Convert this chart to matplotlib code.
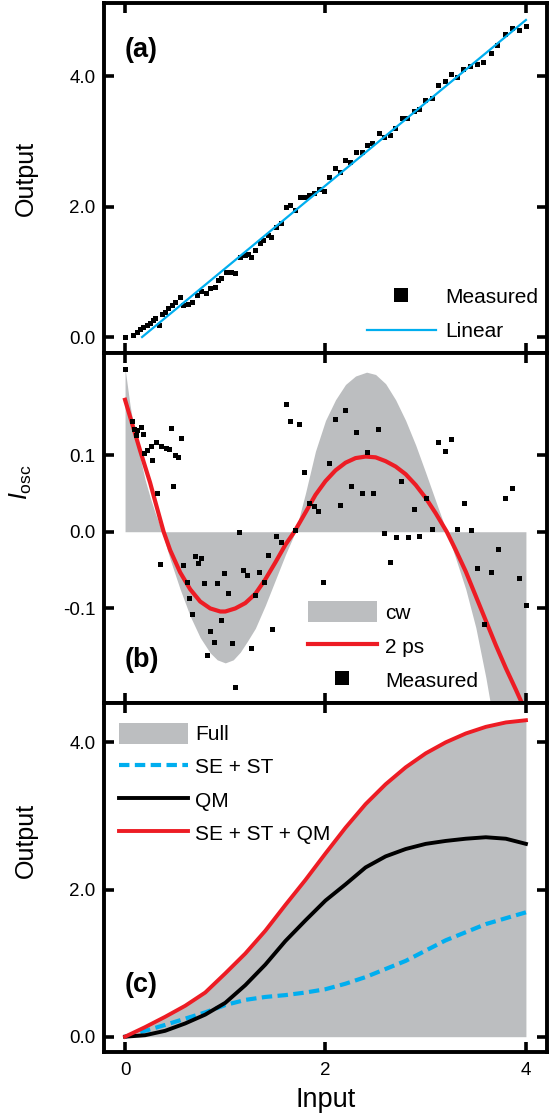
import matplotlib
matplotlib.use("Agg")
import matplotlib.pyplot as plt

plt.rcParams['font.family'] = ['Liberation Sans', 'DejaVu Sans']
plt.rcParams['mathtext.fontset'] = 'custom'
plt.rcParams['mathtext.rm'] = 'Liberation Sans'
plt.rcParams['mathtext.it'] = 'Liberation Sans:italic'

# ---- panel (a): measured output vs input, with a linear fit
a_in = [0.00, 0.08, 0.12, 0.15, 0.18, 0.22, 0.25, 0.28, 0.30, 0.34, 0.37, 0.40, 0.43,
        0.47, 0.50, 0.55, 0.58, 0.63, 0.67, 0.72, 0.76, 0.81, 0.85, 0.90, 0.93, 0.96,
        1.01, 1.06, 1.10, 1.15, 1.20, 1.23, 1.26, 1.30, 1.35, 1.38, 1.43, 1.46, 1.51,
        1.56, 1.61, 1.65, 1.70, 1.75, 1.78, 1.81, 1.84, 1.89, 1.94, 1.99, 2.04, 2.09,
        2.14, 2.19, 2.24, 2.30, 2.36, 2.41, 2.46, 2.53, 2.58, 2.64, 2.69, 2.76, 2.81,
        2.88, 2.93, 2.99, 3.06, 3.12, 3.19, 3.25, 3.31, 3.37, 3.44, 3.51, 3.57, 3.65,
        3.71, 3.79, 3.86, 3.93, 4.00]
a_out = [0.00, 0.03, 0.08, 0.13, 0.16, 0.18, 0.22, 0.26, 0.29, 0.18, 0.36, 0.39, 0.44,
         0.49, 0.53, 0.62, 0.49, 0.51, 0.53, 0.64, 0.70, 0.67, 0.75, 0.77, 0.88, 0.90,
         1.00, 0.99, 0.98, 1.23, 1.26, 1.28, 1.23, 1.34, 1.44, 1.48, 1.56, 1.53, 1.69,
         1.75, 1.99, 2.02, 1.95, 2.14, 2.14, 2.14, 2.18, 2.21, 2.27, 2.24, 2.46, 2.59,
         2.53, 2.72, 2.69, 2.83, 2.83, 2.94, 2.97, 3.12, 3.07, 3.10, 3.20, 3.35, 3.35,
         3.46, 3.49, 3.63, 3.67, 3.86, 3.93, 4.03, 3.99, 4.11, 4.15, 4.19, 4.21, 4.36,
         4.48, 4.64, 4.73, 4.71, 4.77]
lin_in = [0.17, 4.00]
lin_out = [0.00, 4.86]

# ---- panel (b): oscillating part
cw_x = [0.00, 0.05, 0.10, 0.15, 0.20, 0.25, 0.30, 0.37, 0.45, 0.55, 0.65, 0.75, 0.85,
        0.92, 1.00, 1.08, 1.15, 1.22, 1.30, 1.40, 1.50, 1.60, 1.70, 1.80, 1.90, 2.00,
        2.10, 2.20, 2.30, 2.41, 2.50, 2.60, 2.70, 2.80, 2.90, 3.00, 3.10, 3.21, 3.30,
        3.40, 3.50, 3.60, 3.70, 3.80, 4.00]
cw_y = [0.213, 0.165, 0.127, 0.097, 0.068, 0.045, 0.025, 0.000, -0.036, -0.075, -0.110,
        -0.138, -0.158, -0.167, -0.171, -0.167, -0.157, -0.143, -0.126, -0.096, -0.063,
        -0.030, 0.000, 0.050, 0.105, 0.145, 0.172, 0.192, 0.203, 0.208, 0.205, 0.193,
        0.172, 0.145, 0.113, 0.077, 0.040, 0.000, -0.035, -0.075, -0.125, -0.190,
        -0.265, -0.340, -0.500]
ps2_x = [0.00, 0.05, 0.10, 0.15, 0.20, 0.25, 0.30, 0.385, 0.45, 0.55, 0.65, 0.75, 0.85,
         0.95, 1.00, 1.10, 1.20, 1.30, 1.40, 1.50, 1.60, 1.69, 1.80, 1.90, 2.00, 2.10,
         2.20, 2.30, 2.40, 2.50, 2.60, 2.70, 2.80, 2.90, 3.00, 3.10, 3.21, 3.30, 3.40,
         3.50, 3.60, 3.70, 3.80, 3.90, 4.00]
ps2_y = [0.172, 0.150, 0.128, 0.106, 0.085, 0.064, 0.040, 0.000, -0.024, -0.053, -0.075,
         -0.091, -0.100, -0.104, -0.104, -0.100, -0.093, -0.081, -0.062, -0.040, -0.017,
         0.000, 0.025, 0.048, 0.066, 0.080, 0.090, 0.096, 0.098, 0.097, 0.092, 0.085,
         0.075, 0.061, 0.044, 0.024, 0.000, -0.024, -0.052, -0.084, -0.116, -0.148,
         -0.178, -0.206, -0.235]
b_in = [0.00, 0.07, 0.09, 0.11, 0.12, 0.16, 0.18, 0.19, 0.22, 0.26, 0.27, 0.31, 0.32,
        0.35, 0.36, 0.41, 0.44, 0.46, 0.48, 0.50, 0.53, 0.56, 0.58, 0.62, 0.64, 0.67,
        0.70, 0.73, 0.76, 0.79, 0.82, 0.85, 0.89, 0.92, 0.96, 0.99, 1.03, 1.07, 1.10,
        1.14, 1.18, 1.22, 1.26, 1.30, 1.34, 1.39, 1.43, 1.47, 1.51, 1.56, 1.61, 1.65,
        1.70, 1.74, 1.79, 1.84, 1.89, 1.93, 1.98, 2.04, 2.09, 2.14, 2.19, 2.25, 2.30,
        2.36, 2.41, 2.47, 2.52, 2.58, 2.64, 2.70, 2.75, 2.82, 2.88, 2.93, 3.00, 3.06,
        3.12, 3.19, 3.25, 3.31, 3.38, 3.45, 3.51, 3.58, 3.65, 3.72, 3.79, 3.86, 3.93, 4.00]
b_out = [0.212, 0.144, 0.134, 0.126, 0.132, 0.136, 0.127, 0.103, 0.107, 0.112, 0.094,
         0.117, 0.051, -0.042, 0.112, 0.109, 0.108, 0.135, 0.060, 0.100, 0.097, 0.122,
         -0.043, -0.065, -0.086, -0.107, -0.031, -0.041, -0.034, -0.067, -0.161, -0.130,
         -0.144, -0.067, -0.115, -0.054, -0.080, -0.145, -0.203, 0.000, -0.050, -0.057,
         -0.152, -0.083, -0.053, -0.066, -0.030, -0.127, -0.006, -0.013, 0.167, 0.145,
         0.002, 0.141, 0.078, 0.037, 0.034, 0.027, -0.065, 0.089, 0.147, 0.035, 0.159,
         0.059, 0.130, 0.050, 0.104, 0.050, 0.134, -0.002, -0.040, -0.007, 0.066, -0.007,
         0.030, -0.006, 0.044, 0.003, 0.117, 0.105, 0.121, 0.003, 0.037, 0.002, -0.047,
         -0.120, -0.052, -0.023, 0.044, 0.057, -0.060, -0.096]

# ---- panel (c): model contributions
c_in = [0.0, 0.2, 0.4, 0.6, 0.8, 1.0, 1.2, 1.4, 1.6, 1.8, 2.0,
        2.2, 2.4, 2.6, 2.8, 3.0, 3.2, 3.4, 3.6, 3.8, 4.0]
full = [0.00, 0.13, 0.27, 0.42, 0.60, 0.86, 1.13, 1.44, 1.79, 2.13, 2.49,
        2.84, 3.16, 3.43, 3.66, 3.85, 4.00, 4.12, 4.21, 4.27, 4.30]
se_st = [0.00, 0.08, 0.16, 0.245, 0.33, 0.43, 0.50, 0.54, 0.565, 0.60, 0.645,
         0.72, 0.81, 0.92, 1.03, 1.17, 1.31, 1.42, 1.53, 1.61, 1.69]
qm = [0.00, 0.02, 0.08, 0.18, 0.30, 0.46, 0.70, 0.98, 1.30, 1.58, 1.85,
      2.07, 2.30, 2.45, 2.55, 2.62, 2.66, 2.69, 2.71, 2.69, 2.62]
se_st_qm = full

GRAY = '#BCBEC0'
RED = '#ED1C24'
BLUE = '#00AEEF'

fig = plt.figure(figsize=(5.52, 11.15), dpi=100)
left, width = 0.1884, 0.8025
ax_a = fig.add_axes([left, 0.6834, width, 0.3139])
ax_b = fig.add_axes([left, 0.3695, width, 0.3139])
ax_c = fig.add_axes([left, 0.0565, width, 0.3130])

for ax in (ax_a, ax_b, ax_c):
    ax.set_xlim(-0.21, 4.21)
    ax.set_xticks([0, 2, 4])
    ax.tick_params(direction='in', top=True, right=True, length=7, width=2.6,
                   labelsize=13.5, pad=6)
    for sp in ax.spines.values():
        sp.set_linewidth(2.8)

# (a)
ax_a.plot(a_in, a_out, 's', color='black', ms=3.6, mew=0, label='Measured', zorder=2)
ax_a.plot(lin_in, lin_out, color=BLUE, lw=1.6, label='Linear', zorder=3)
ax_a.set_ylim(-0.245, 5.12)
ax_a.set_yticks([0, 2, 4])
ax_a.set_yticklabels(['0.0', '2.0', '4.0'])
ax_a.tick_params(labelbottom=False)
ax_a.set_ylabel('Output', fontsize=18)
ax_a.yaxis.set_label_coords(-0.15, 0.5)
ax_a.text(0.047, 0.866, '(a)', transform=ax_a.transAxes, fontsize=19.5,
          fontweight='bold', va='center')
ax_a.legend(loc='lower right', bbox_to_anchor=(0.98, 0.034), frameon=False,
            fontsize=15, handlelength=3.3, handletextpad=0.45, labelspacing=0.74,
            markerscale=2.6, borderpad=0, borderaxespad=0)

# (b)
ax_b.fill_between(cw_x, cw_y, 0, color=GRAY, lw=0, label='cw', zorder=1)
ax_b.plot(ps2_x, ps2_y, color=RED, lw=3.0, label='2 ps', zorder=2)
ax_b.plot(b_in, b_out, 's', color='black', ms=3.6, mew=0, label='Measured', zorder=3)
ax_b.set_ylim(-0.2233, 0.233)
ax_b.set_yticks([-0.1, 0.0, 0.1])
ax_b.set_yticklabels(['-0.1', '0.0', '0.1'])
ax_b.tick_params(labelbottom=False)
ax_b.set_ylabel(r'$I_{\mathrm{osc}}$', fontsize=18)
ax_b.yaxis.set_label_coords(-0.158, 0.63)
ax_b.text(0.047, 0.123, '(b)', transform=ax_b.transAxes, fontsize=19.5,
          fontweight='bold', va='center')
ax_b.legend(loc='lower left', bbox_to_anchor=(0.46, 0.034), frameon=False,
            fontsize=15, handlelength=3.3, handleheight=1.2, handletextpad=0.4,
            labelspacing=0.6, markerscale=2.6, borderpad=0, borderaxespad=0)

# (c)
ax_c.fill_between(c_in, full, 0, color=GRAY, lw=0, label='Full', zorder=1)
ax_c.plot(c_in, se_st, color=BLUE, lw=3.0, dashes=(2.5, 1.3), label='SE + ST', zorder=2)
ax_c.plot(c_in, qm, color='black', lw=2.8, label='QM', zorder=3)
ax_c.plot(c_in, se_st_qm, color=RED, lw=2.8, label='SE + ST + QM', zorder=4)
ax_c.set_ylim(-0.208, 4.534)
ax_c.set_yticks([0, 2, 4])
ax_c.set_yticklabels(['0.0', '2.0', '4.0'])
ax_c.set_xticklabels(['0', '2', '4'])
ax_c.tick_params(axis='x', pad=7)
ax_c.set_xlabel('Input', fontsize=19.5, labelpad=6)
ax_c.set_ylabel('Output', fontsize=18)
ax_c.yaxis.set_label_coords(-0.15, 0.607)
ax_c.text(0.047, 0.192, '(c)', transform=ax_c.transAxes, fontsize=19.5,
          fontweight='bold', va='center')
ax_c.legend(loc='upper left', bbox_to_anchor=(0.034, 0.944), frameon=False,
            fontsize=15, handlelength=3.3, handleheight=1.2, handletextpad=0.35,
            labelspacing=0.55, borderpad=0, borderaxespad=0)

fig.savefig('out.png', dpi=100)
